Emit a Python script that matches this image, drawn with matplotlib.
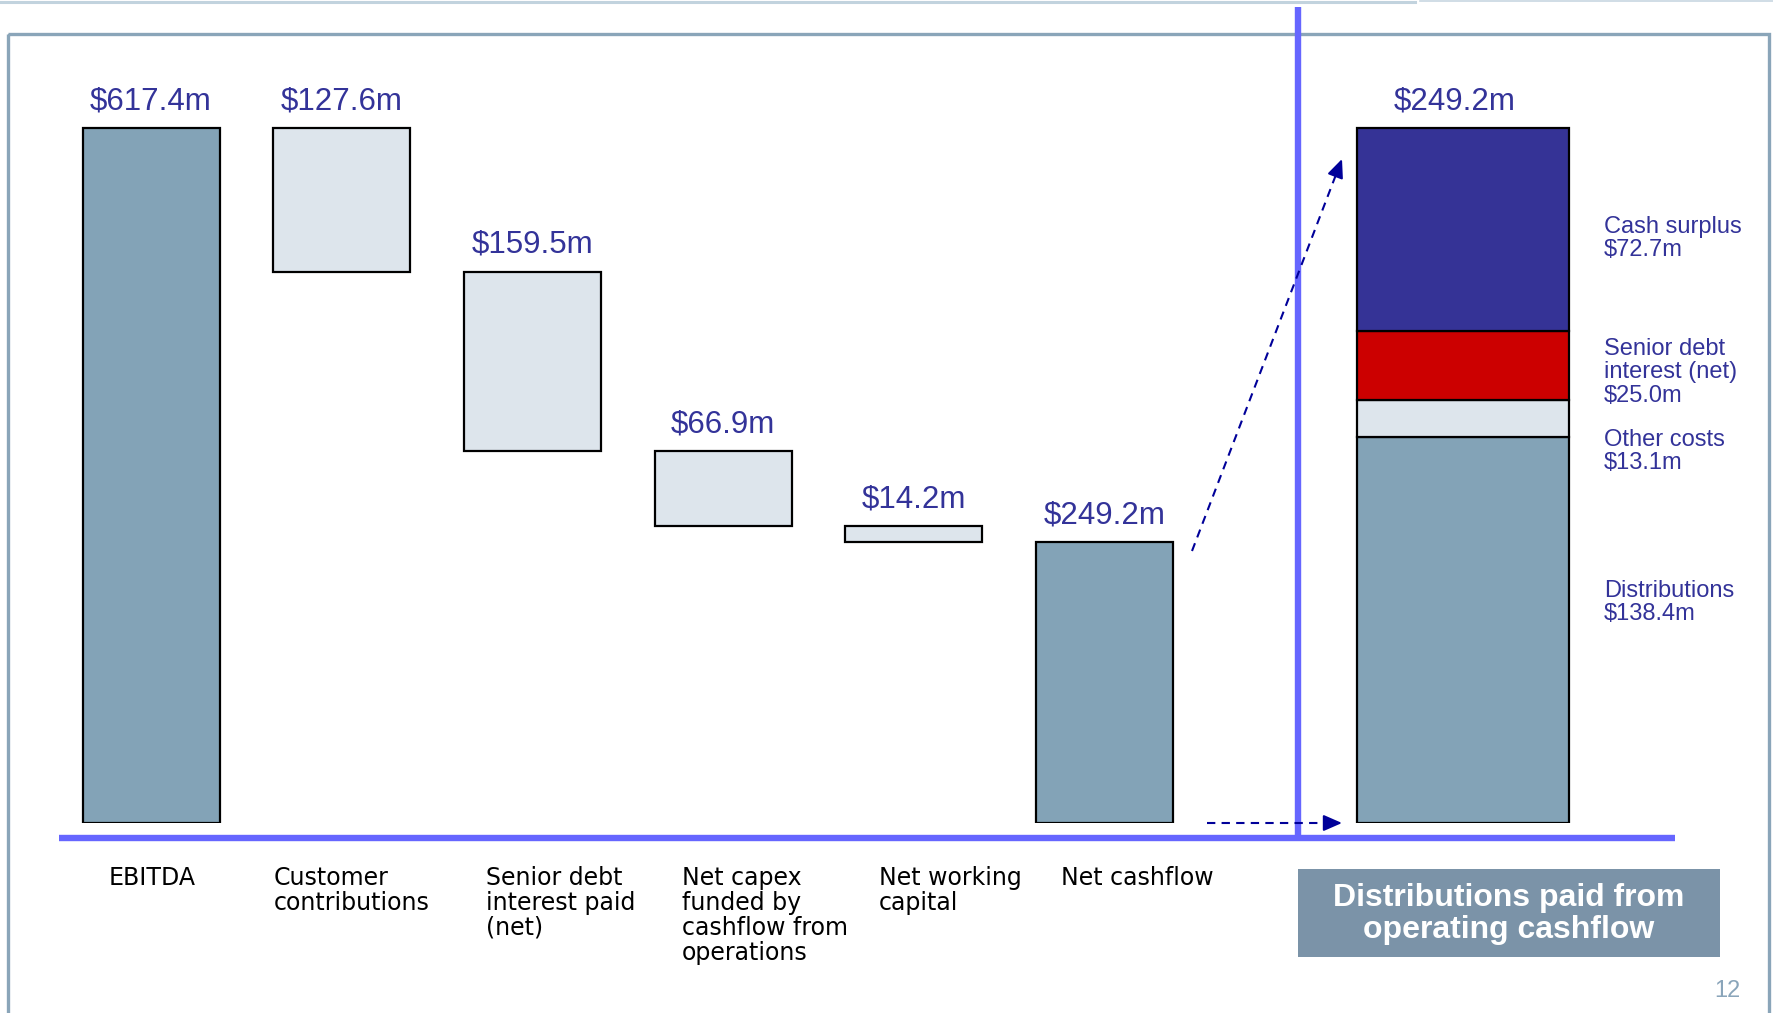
import matplotlib.pyplot as plt
from matplotlib.patches import Rectangle

# Operating cashflow waterfall ($m)
categories = ['EBITDA', 'Customer\ncontributions', 'Senior debt\ninterest paid\n(net)',
              'Net capex\nfunded by\ncashflow from\noperations', 'Net working\ncapital',
              'Net cashflow']
ebitda = 617.4
deductions = [127.6, 159.5, 66.9, 14.2]
net_cashflow = 249.2

# How the net cashflow is used, stacked bottom to top ($m)
uses = ['Distributions', 'Other costs', 'Senior debt\ninterest (net)', 'Cash surplus']
use_values = [138.4, 13.1, 25.0, 72.7]

total_color = '#83a3b7'
step_color = '#dde5ec'
use_colors = [total_color, step_color, '#cc0000', '#353396']
navy_text = '#333399'
rule_blue = '#6666ff'
arrow_navy = '#000099'

W, H = 1774, 1013
zero_px, top_px = 823, 128          # pixel rows of $0 and of the EBITDA top
first_px, step_px = 151, 190.7      # centre of first bar and bar pitch in pixels

fig = plt.figure(figsize=(W / 100, H / 100), dpi=100)
fig.patch.set_facecolor('white')

# page furniture in pixel coordinates
deco = fig.add_axes([0, 0, 1, 1], zorder=0)
deco.set_xlim(0, W)
deco.set_ylim(H, 0)
deco.axis('off')

deco.plot([0, 1415], [1.5, 1.5], color='#c2d3de', lw=2.2)
deco.plot([1420, W], [1, 1], color='#c8d7e1', lw=1.2)
deco.add_patch(Rectangle((8, 34), 1761, 1100, fill=False, ec='#8aa5b9', lw=2.4))

deco.plot([59, 1675], [838, 838], color=rule_blue, lw=4.6, solid_capstyle='butt')
deco.plot([1298, 1298], [7, 841], color=rule_blue, lw=4.6, solid_capstyle='butt')

# dashed arrows from the net cashflow bar to the breakdown
dash = (0, (4, 3))
head = dict(arrowstyle='-|>,head_length=0.8,head_width=0.35', color=arrow_navy, lw=1.5,
            shrinkA=0, shrinkB=0, mutation_scale=14)
deco.plot([1192, 1337], [551, 172], color=arrow_navy, lw=1.5, ls=dash)
deco.annotate('', xy=(1342, 159), xytext=(1337, 172), arrowprops=head)
deco.plot([1207, 1328], [823, 823], color=arrow_navy, lw=1.5, ls=dash)
deco.annotate('', xy=(1342, 823), xytext=(1328, 823), arrowprops=head)

# category labels under the baseline
label_x = [109, 274, 486, 682, 879, 1061]
for x, lab in zip(label_x, categories):
    deco.text(x, 866, lab, ha='left', va='top', fontsize=17, color='black',
              family='DejaVu Sans', linespacing=1.05)

# labels beside the breakdown bar
use_label_top = [580, 429, 338, 216]
for y, name, v in zip(use_label_top, uses, use_values):
    deco.text(1604, y, f'{name}\n${v:.1f}m', ha='left', va='top', fontsize=17,
              color=navy_text, family='Liberation Sans', linespacing=1.08)

deco.add_patch(Rectangle((1298, 869), 422, 88, fc='#7b93a8', ec='none'))
deco.text(1509, 914, 'Distributions paid from\noperating cashflow', ha='center', va='center',
          fontsize=23, fontweight='bold', color='white', family='Liberation Sans',
          linespacing=1.08)
deco.text(1727, 997, '12', ha='center', va='baseline', fontsize=17, color='#8aa5ba',
          family='Liberation Sans')

# waterfall axes
px_per_m = (zero_px - top_px) / ebitda
pos = [0, 1 - zero_px / H, 1, zero_px / H]
ax = fig.add_axes(pos, zorder=1)
ax.set_facecolor('none')
ax.set_xlim(-first_px / step_px, (W - first_px) / step_px)
ax.set_ylim(0, zero_px / px_per_m)
ax.axis('off')

bar_w = 137 / step_px
bottoms = [0]
heights = [ebitda]
running = ebitda
for d in deductions:
    running -= d
    bottoms.append(running)
    heights.append(d)
bottoms.append(0)
heights.append(net_cashflow)
colors = [total_color] + [step_color] * len(deductions) + [total_color]

for i, (b, h, c) in enumerate(zip(bottoms, heights, colors)):
    ax.bar(i, h, bottom=b, width=bar_w, color=c, edgecolor='black', linewidth=1.6)
    ax.annotate(f'${h:.1f}m', xy=(i, b + h), xytext=(0, 13.5), textcoords='offset points',
                ha='center', va='baseline', fontsize=22.5, color=navy_text,
                family='Liberation Sans')

# breakdown of net cashflow on its own scale
ax2 = fig.add_axes(pos, zorder=2)
ax2.set_facecolor('none')
ax2.set_xlim(ax.get_xlim())
ax2.set_ylim(0, zero_px / px_per_m * net_cashflow / ebitda)
ax2.axis('off')

stack_x = (1463 - first_px) / step_px
stack_w = 212 / step_px
base = 0
for v, c in zip(use_values, use_colors):
    ax2.bar(stack_x, v, bottom=base, width=stack_w, color=c, edgecolor='black', linewidth=1.6)
    base += v
ax2.annotate(f'${base:.1f}m', xy=(stack_x, base), xytext=(-6, 13.5),
             textcoords='offset points', ha='center', va='baseline', fontsize=22.5,
             color=navy_text, family='Liberation Sans')

fig.savefig('out.png', dpi=100)
